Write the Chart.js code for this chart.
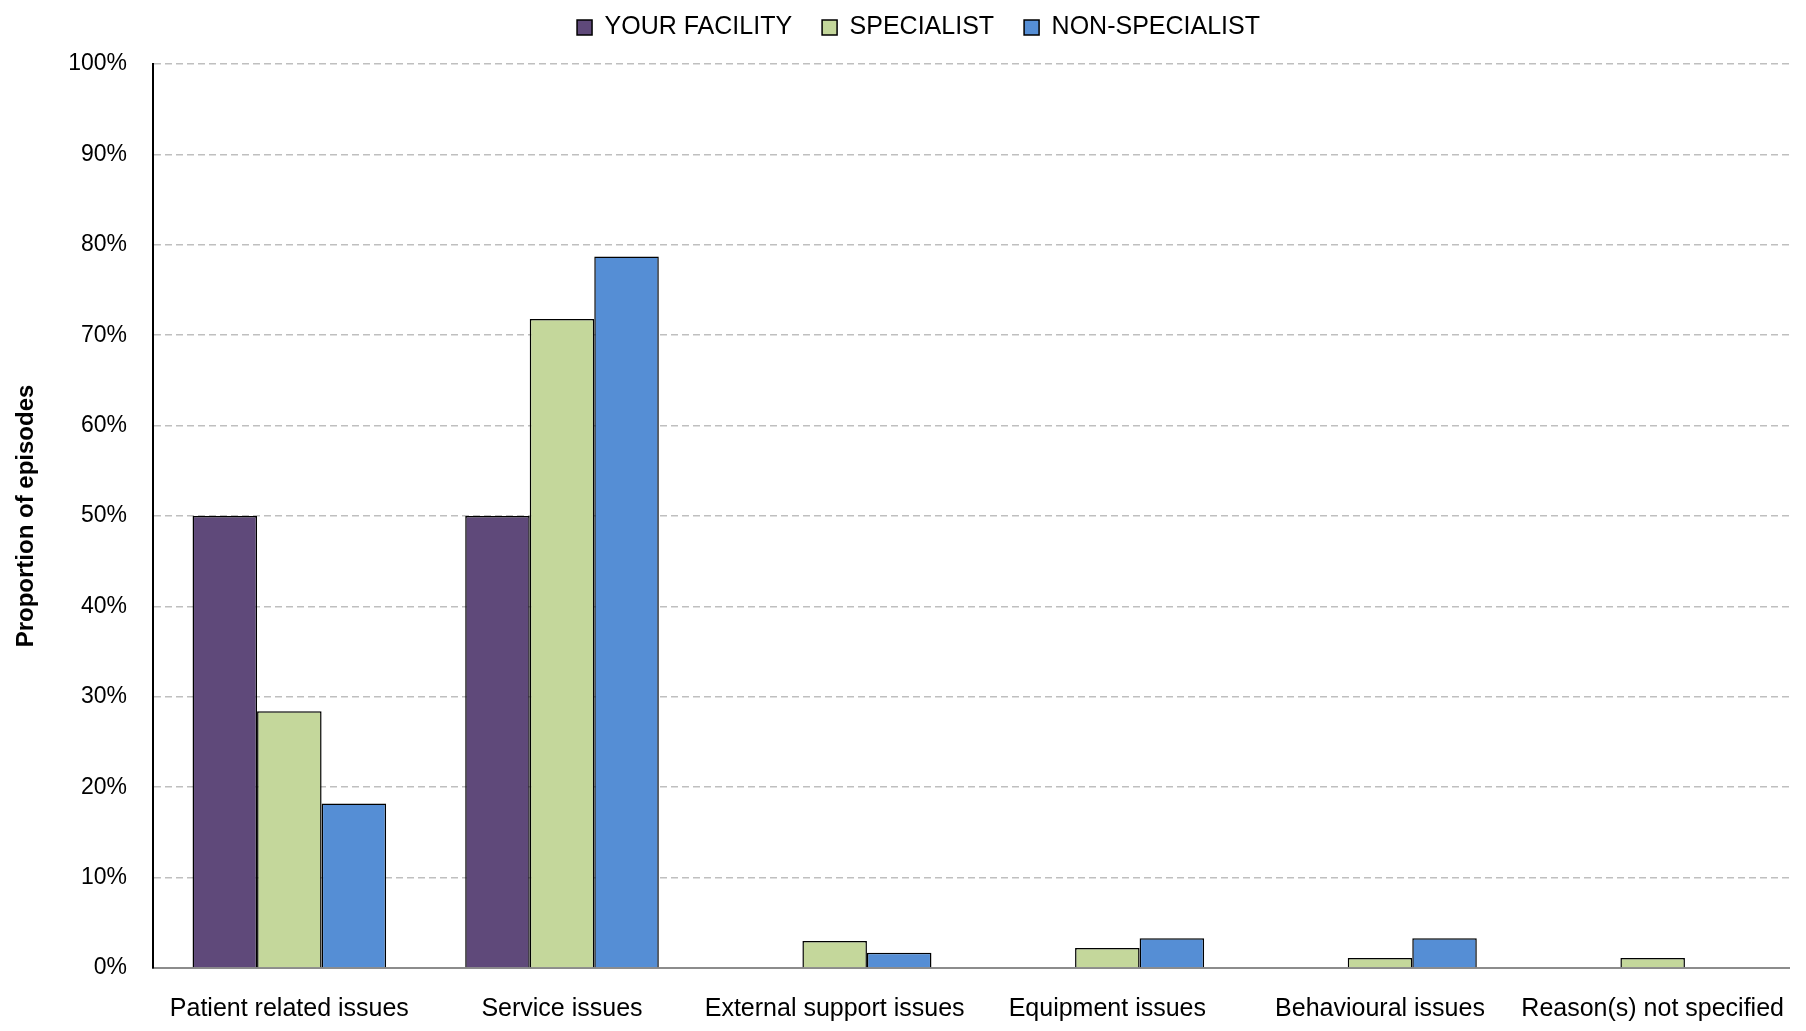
<!DOCTYPE html>
<html>
<head>
<meta charset="utf-8">
<script src="https://cdn.jsdelivr.net/npm/chart.js@4"></script>
<style>
  html, body { margin: 0; padding: 0; background: #fff; }
  #wrap { width: 1806px; height: 1031px; }
</style>
</head>
<body>
<div id="wrap"><canvas id="reasonChart" width="1806" height="1031"></canvas></div>
<script>
const categories = ["Patient related issues", "Service issues", "External support issues",
                    "Equipment issues", "Behavioural issues", "Reason(s) not specified"];
const seriesNames = ["YOUR FACILITY", "SPECIALIST", "NON-SPECIALIST"];
const facility = [50, 50, 0, 0, 0, 0];
const specialist = [28.4, 71.8, 3.0, 2.2, 1.1, 1.1];
const nonSpecialist = [18.2, 78.7, 1.7, 3.3, 3.3, 0];
const yTicks = [0, 10, 20, 30, 40, 50, 60, 70, 80, 90, 100];

const FONT = "'Liberation Sans Narrow', 'Arial Narrow', 'Liberation Sans', sans-serif";
Chart.defaults.font.family = FONT;
Chart.defaults.color = "#000";

const colors = ["#5F497A", "#C4D79B", "#558ED5"];

function makeSet(i, data) {
    return {
        label: seriesNames[i],
        data: data,
        backgroundColor: colors[i],
        borderColor: "#000",
        borderWidth: 1.5,
        categoryPercentage: 0.71,
        barPercentage: 1.0
    };
}

// legend sits close to the top edge but the plot starts lower
const legendTweak = {
    id: "legendTweak",
    afterInit(chart) {
        const lg = chart.legend;
        const fit = lg.fit;
        lg.fit = function () {
            fit.call(this);
            this.height += 14;
        };
    },
    beforeDraw(chart) {
        const lg = chart.legend;
        if (!lg._shifted) {
            lg.left += 18;
            lg.right += 18;
            lg._shifted = true;
        }
    }
};

new Chart(document.getElementById("reasonChart"), {
    type: "bar",
    data: {
        labels: categories,
        datasets: [makeSet(0, facility), makeSet(1, specialist), makeSet(2, nonSpecialist)]
    },
    options: {
        responsive: false,
        animation: false,
        layout: { padding: { left: 12, right: 17, top: -15, bottom: -11 } },
        plugins: {
            legend: {
                position: "top",
                labels: {
                    font: { size: 25 },
                    boxWidth: 15,
                    boxHeight: 15,
                    padding: 30,
                    color: "#000"
                }
            },
            tooltip: { enabled: false }
        },
        scales: {
            x: {
                grid: { display: false },
                border: { color: "#8c8c8c", width: 2 },
                ticks: { font: { size: 25 }, padding: 18, maxRotation: 0 }
            },
            y: {
                min: 0,
                max: 100,
                afterBuildTicks: function (axis) {
                    axis.ticks = yTicks.map(v => ({ value: v }));
                },
                afterFit: function (axis) {
                    axis.width = 141;
                },
                grid: {
                    color: "#bfbfbf",
                    lineWidth: 1.5,
                    drawTicks: false
                },
                border: { color: "#000", width: 2, dash: [7, 4] },
                ticks: {
                    font: { size: 23 },
                    padding: 26,
                    callback: v => v + "%"
                },
                title: {
                    display: true,
                    text: "Proportion of episodes",
                    font: { size: 24, weight: "bold" },
                    padding: { top: 0, bottom: 20 }
                }
            }
        }
    },
    plugins: [legendTweak]
});
</script>
</body>
</html>
